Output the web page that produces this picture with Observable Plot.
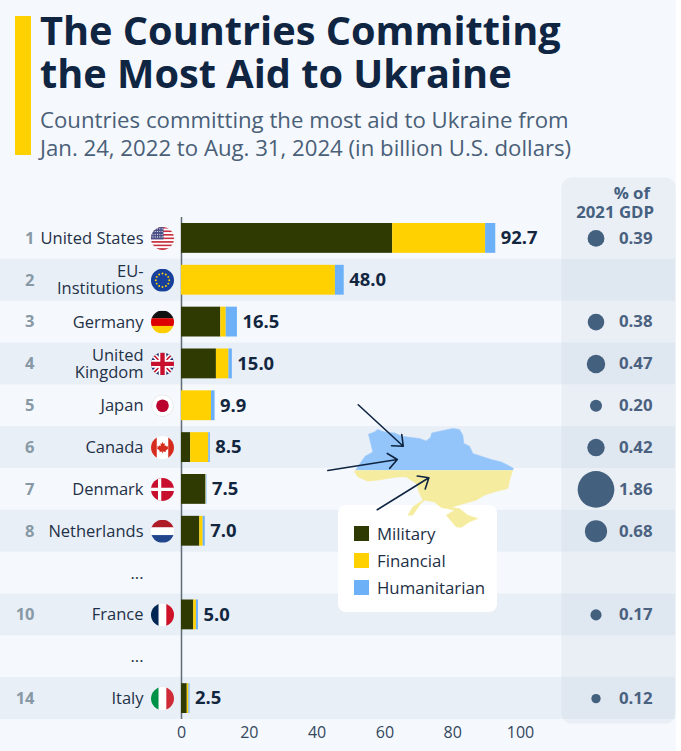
<!DOCTYPE html>
<html>
<head>
<meta charset="utf-8">
<script src="https://cdn.jsdelivr.net/npm/d3@7"></script>
<script src="https://cdn.jsdelivr.net/npm/@observablehq/plot@0.6"></script>
<style>
  html, body { margin: 0; padding: 0; background: #fff; }
  #page { position: relative; width: 681px; height: 751px; background: linear-gradient(to right, #f5f8fc 676px, #fff 676px); font-family: "Open Sans", sans-serif; overflow: hidden; }
  #bar { position: absolute; left: 15px; top: 16px; width: 16px; height: 139px; background: #ffd100; }
  h1 { position: absolute; left: 40px; top: 9px; margin: 0; font-size: 39.7px; line-height: 43px; font-weight: 700; color: #0f2542; white-space: nowrap; }
  #sub { position: absolute; left: 40px; top: 106px; font-size: 22.2px; line-height: 28px; color: #4a5f78; white-space: nowrap; }
  #chart { position: absolute; left: 0; top: 175px; }
  #chart svg, #map svg { display: block; background: transparent; overflow: visible; max-width: none; }
  #gdpHead { position: absolute; left: 560px; width: 94px; top: 184px; text-align: right; font-weight: 700; font-size: 16.8px; line-height: 18.5px; color: #46607f; white-space: nowrap; }
  #legend { position: absolute; left: 338px; top: 505px; width: 159px; height: 107px; background: #fff; border-radius: 8px; }
  .row { position: absolute; left: 16px; height: 15px; font-size: 16.8px; line-height: 15px; color: #1c2f45; white-space: nowrap; }
  .row i { display: inline-block; width: 15px; height: 15px; margin-right: 8px; vertical-align: top; }
  #map { position: absolute; left: 320px; top: 400px; }
</style>
</head>
<body>
<div id="page">
  <div id="bar"></div>
  <h1>The Countries Committing<br>the Most Aid to Ukraine</h1>
  <div id="sub">Countries committing the most aid to Ukraine from<br>Jan. 24, 2022 to Aug. 31, 2024 (in billion U.S. dollars)</div>
  <div id="chart"></div>
  <div id="gdpHead"><span style="padding-right:4px">% of</span><br>2021 GDP</div>
  <div id="legend"></div>
  <div id="map"></div>
</div>
<script>
const ranks = ["1","2","3","4","5","6","7","8","…a","10","…b","14"];
const countries = ["United States","EU-\nInstitutions","Germany","United\nKingdom","Japan","Canada","Denmark","Netherlands","...","France","...","Italy"];
const military = [62.3,0,11.6,10.3,0,2.7,7.2,5.4,null,3.6,null,1.7];
const financial = [27.4,45.4,1.6,3.7,8.85,5.35,0.1,1.0,null,0.8,null,0.5];
const humanitarian = [3.0,2.6,3.3,1.0,1.05,0.45,0.2,0.6,null,0.6,null,0.3];
const totals = [92.7,48.0,16.5,15.0,9.9,8.5,7.5,7.0,null,5.0,null,2.5];
const gdp = [0.39,null,0.38,0.47,0.20,0.42,1.86,0.68,null,0.17,null,0.12];
const aidTypes = ["Military","Financial","Humanitarian"];
const aidColors = ["#2e3a02","#ffd100","#6cb0f8"];
const xTicks = [0,20,40,60,80,100];

const stripes = (cols) => cols.map((c,i)=>`<rect y="${i*24/cols.length}" width="24" height="${24/cols.length+.1}" fill="${c}"/>`).join("");
const vstripes = (cols) => cols.map((c,i)=>`<rect x="${i*8}" width="8.1" height="24" fill="${c}"/>`).join("");
const usStripes = d3.range(13).map(i=>i%2?"#fff":"#c8303f");
const euStars = d3.range(12).map(i=>`<circle cx="${12+7*Math.cos(i*Math.PI/6)}" cy="${12+7*Math.sin(i*Math.PI/6)}" r="1" fill="#ffd100"/>`).join("");
const usStars = d3.cross(d3.range(5),d3.range(4)).map(([a,b])=>`<circle cx="${2+a*2.4}" cy="${2+b*2.8}" r=".6" fill="#fff"/>`).join("");
const flagSvgs = [
  stripes(usStripes)+`<rect width="13" height="13" fill="#4a4f86"/>`+usStars,
  `<rect width="24" height="24" fill="#17409b"/>`+euStars,
  stripes(["#111","#dd0000","#ffce00"]),
  `<rect width="24" height="24" fill="#1f2f6b"/><path d="M0 0L24 24M24 0L0 24" stroke="#fff" stroke-width="5"/><path d="M0 0L24 24M24 0L0 24" stroke="#c8102e" stroke-width="1.6"/><path d="M12 0V24M0 12H24" stroke="#fff" stroke-width="8"/><path d="M12 0V24M0 12H24" stroke="#c8102e" stroke-width="4.6"/>`,
  `<rect width="24" height="24" fill="#fff"/><circle cx="12" cy="12" r="11.4" fill="none" stroke="#dcdfe4" stroke-width=".8"/><circle cx="12" cy="12" r="6.6" fill="#bc002d"/>`,
  `<rect width="24" height="24" fill="#fff"/><rect width="6" height="24" fill="#d52b1e"/><rect x="18" width="6" height="24" fill="#d52b1e"/><path d="M12 6l1.2 2.2 1.4-.7-.5 3 1.5-1 .5 1.3 2-.3-.7 2 .8.5-3 2.3.3 1.2-2.9-.4V18h-.8v-1.9l-2.900.4.3-1.200-3-2.300.8-.5-.7-2 2 .3.500-1.300 1.500 1-.5-3 1.400.7z" fill="#d52b1e"/>`,
  `<rect width="24" height="24" fill="#c8102e"/><path d="M9 0V24M0 12H24" stroke="#fff" stroke-width="3.400"/>`,
  stripes(["#ae1c28","#fff","#21468b"]),
  vstripes(["#002654","#fff","#ce1126"]),
  vstripes(["#009246","#fff","#ce2b37"])
];
const flagRows = [0,1,2,3,4,5,6,7,9,11];
const flagUri = Object.fromEntries(flagRows.map((r,i)=>[ranks[r],
  "data:image/svg+xml;utf8,"+encodeURIComponent(`<svg xmlns="http://www.w3.org/2000/svg" viewBox="0 0 24 24" width="96" height="96">${flagSvgs[i]}</svg>`)]));

const rows = ranks.map((key,i)=>({key, country:countries[i], rank:key.startsWith("…")?"":key, total:totals[i], gdp:gdp[i], striped:i%2===1}));
const aid = ranks.flatMap((key,i)=>[military[i],financial[i],humanitarian[i]].map((value,j)=>({key,type:aidTypes[j],value}))).filter(d=>d.value);
const hiddenByMap = new Set(["6","7"]);
const grid = d3.cross(xTicks.slice(1),ranks).map(([tick,key])=>({tick,key})).filter(d=>!((d.tick===60||d.tick===80)&&hiddenByMap.has(d.key)));
const bgOf = d=>d.striped?"#e9eff7":"#f5f8fc";

const chart = Plot.plot({
  width:681, height:576, marginLeft:181, marginRight:161, marginTop:42, marginBottom:32,
  style:{fontFamily:"Open Sans, sans-serif", background:"transparent"},
  x:{domain:[0,100]},
  y:{domain:ranks, padding:0, round:false, axis:null},
  color:{domain:aidTypes, range:aidColors},
  r:{domain:[0,1.86], range:[0,18.35]},
  marks:[
    Plot.cell(rows.filter(d=>d.striped),{y:"key",fill:"#e9eff7",insetLeft:-181,insetRight:-155}),
    Plot.frame({fill:"#8da8c8",fillOpacity:.1,stroke:null,rx:10,insetLeft:380,insetRight:-155,insetTop:-40,insetBottom:-4}),
    Plot.ruleX(grid,{x:"tick",y:"key",stroke:"#b4bbc4",strokeWidth:1}),
    Plot.ruleX([0],{stroke:"#5f6b76",strokeWidth:1.5}),
    Plot.barX(aid,{x:"value",y:"key",fill:"type",insetTop:6,insetBottom:6}),
    Plot.axisX({anchor:"bottom",ticks:xTicks,tickSize:0,tickPadding:7,label:null,fontSize:16,color:"#33475c"}),
    Plot.text(rows.filter(d=>d.total!=null),{x:"total",y:"key",text:d=>d.total.toFixed(1),dx:5,textAnchor:"start",fontWeight:700,fontSize:18.4,fill:"#12263f",stroke:{value:bgOf,scale:null},strokeWidth:5,paintOrder:"stroke"}),
    Plot.text(rows,{y:"key",text:"rank",frameAnchor:"left",dx:-147,textAnchor:"end",fontWeight:700,fontSize:16.5,fill:"#8899a6"}),
    Plot.text(rows,{y:"key",text:"country",frameAnchor:"left",dx:-38,textAnchor:"end",fontSize:16.5,lineHeight:1.03,fill:"#1f3147"}),
    Plot.image(rows.filter(d=>flagUri[d.key]),{y:"key",src:d=>flagUri[d.key],frameAnchor:"left",dx:-19,width:23,height:23,r:11.5}),
    Plot.dot(rows.filter(d=>d.gdp!=null),{y:"key",r:"gdp",frameAnchor:"right",dx:75.5,fill:"#44607f"}),
    Plot.text(rows.filter(d=>d.gdp!=null),{y:"key",text:d=>d.gdp.toFixed(2),frameAnchor:"right",dx:132,textAnchor:"end",fontWeight:700,fontSize:16.8,fill:"#4a6280"})
  ]
});
document.getElementById("chart").append(chart);

const legend = document.getElementById("legend");
aidTypes.forEach((t,i)=>{
  const r = document.createElement("div");
  r.className = "row";
  r.style.top = (21+i*27)+"px";
  r.innerHTML = `<i style="background:${aidColors[i]}"></i>${t}`;
  legend.append(r);
});

const ukraineNorth = [[22.11,49.07],[22.75,49.73],[23.21,50.19],[24.08,50.53],[23.89,51.07],[23.58,51.95],[24.26,52.13],[24.64,52.32],[25.40,52.13],[26.53,52.05],[27.36,51.79],[28.42,51.68],[29.36,51.60],[30.11,51.41],[30.60,51.68],[30.75,52.05],[31.81,52.21],[33.13,52.40],[33.89,52.32],[34.26,51.87],[34.38,51.20],[35.02,50.99],[35.40,50.40],[36.34,50.19],[37.47,49.92],[38.60,49.73],[39.36,49.47],[40.00,49.20],[39.92,49.07]];
const ukraineSouth = [[39.92,49.07],[39.62,48.40],[39.36,47.60],[37.85,47.33],[36.72,47.07],[35.77,46.67],[34.45,46.40],[32.94,46.08],[33.89,46.00],[34.83,45.47],[35.96,45.20],[35.02,44.93],[34.08,44.48],[33.51,44.53],[32.38,45.47],[33.32,45.87],[31.81,46.08],[31.06,46.53],[29.92,46.67],[29.36,46.27],[28.60,45.47],[28.04,45.47],[28.60,46.13],[29.74,46.67],[29.36,47.20],[28.98,48.00],[27.85,48.53],[26.91,48.53],[25.77,48.40],[24.64,48.27],[23.51,48.19],[22.38,48.53],[22.0,48.93],[22.11,49.07]];
const arrowLinks = [
  {lon1:22.42,lat1:54.30,lon2:27.52,lat2:50.98},
  {lon1:18.98,lat1:49.04,lon2:26.85,lat2:49.92},
  {lon1:24.58,lat1:45.90,lon2:30.42,lat2:48.46}
];
const map = Plot.plot({
  width:200, height:135, marginLeft:34, marginRight:7, marginTop:28, marginBottom:7,
  style:{background:"transparent"},
  x:{domain:[22,40],axis:null},
  y:{domain:[44.4,52.4],axis:null},
  marks:[
    Plot.line(ukraineNorth,{x:d=>d[0],y:d=>d[1],fill:"#93c5fb",stroke:"#93c5fb",strokeWidth:.5}),
    Plot.line(ukraineSouth,{x:d=>d[0],y:d=>d[1],fill:"#f6ec9f",stroke:"#f6ec9f",strokeWidth:.5}),
    Plot.arrow(arrowLinks,{x1:"lon1",y1:"lat1",x2:"lon2",y2:"lat2",stroke:"#0f2542",strokeWidth:1.6,headLength:11,headAngle:80})
  ]
});
document.getElementById("map").append(map);
</script>
</body>
</html>
